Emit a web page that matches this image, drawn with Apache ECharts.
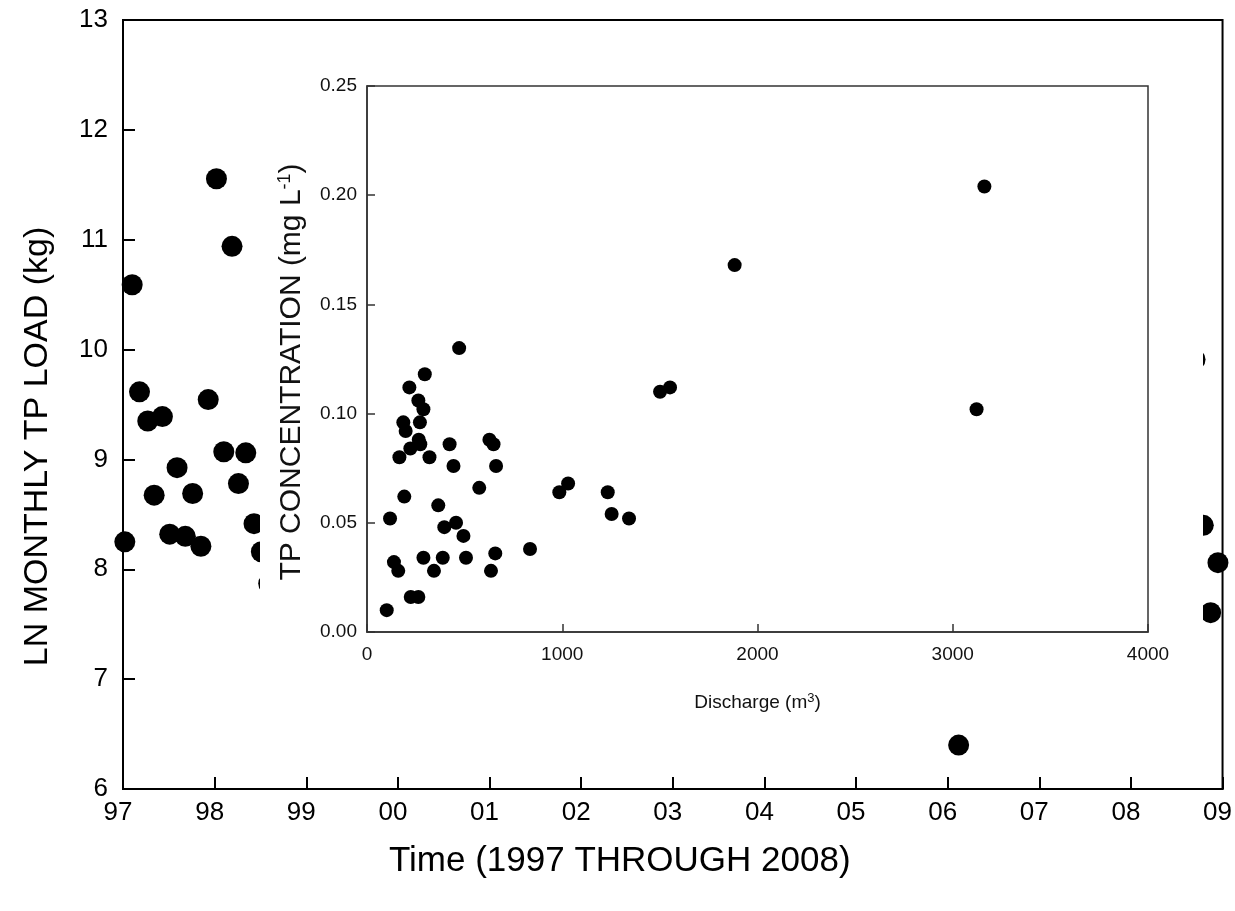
<!DOCTYPE html>
<html>
<head>
<meta charset="utf-8">
<script src="https://cdn.jsdelivr.net/npm/echarts@6/dist/echarts.min.js"></script>
<style>
html,body{margin:0;padding:0;background:#fff;}
#c{width:1235px;height:911px;}
</style>
</head>
<body>
<div id="c"></div>
<script>
// Main chart: decimal year vs LN monthly TP load (kg) (visible points only)
const mainYears = [1997.02,1997.10,1997.18,1997.27,1997.34,1997.43,1997.51,1997.59,1997.68,1997.76,1997.85,1997.93,
  1998.02,1998.10,1998.19,1998.26,1998.34,1998.43,1998.51,1998.59,2006.12,2008.70,2008.79,2008.87,2008.95];
const mainLoad = [8.25,10.59,9.615,9.35,8.675,9.39,8.32,8.925,8.30,8.69,8.21,9.545,
  11.555,9.07,10.94,8.78,9.06,8.415,8.16,7.87,6.40,9.91,8.40,7.605,8.06];

// Inset: discharge (m3) vs TP concentration (mg/L)
const discharge = [101,118,138,160,191,166,186,198,217,222,224,263,263,289,271,265,273,296,320,289,343,365,388,396,456,494,507,423,443,472,
  575,627,648,661,657,635,835,985,1030,1233,1253,1342,1501,1552,1883,3122,3162];
const tpConc = [0.010,0.052,0.032,0.028,0.062,0.080,0.096,0.092,0.112,0.084,0.016,0.016,0.106,0.102,0.096,0.088,0.086,0.118,0.080,0.034,0.028,0.058,0.034,0.048,0.050,0.044,0.034,0.086,0.076,0.130,
  0.066,0.088,0.086,0.076,0.036,0.028,0.038,0.064,0.068,0.064,0.054,0.052,0.110,0.112,0.168,0.102,0.204];

const FONT = 'Liberation Sans, Arial, sans-serif';
const mainData = mainYears.map((y,i)=>[y, mainLoad[i]]);
const insetData = discharge.map((d,i)=>[d, tpConc[i]]);

const chart = echarts.init(document.getElementById('c'), null, {renderer:'canvas'});
chart.setOption({
  animation:false,
  backgroundColor:'#fff',
  textStyle:{fontFamily:FONT, color:'#000'},
  grid:[
    {left:123, right:11, top:20, bottom:122, show:true, borderColor:'#000', borderWidth:2, zlevel:0},
    {left:367, right:87, top:86, bottom:279, show:true, borderColor:'#333', borderWidth:1.5, zlevel:2}
  ],
  xAxis:[
    {type:'value', gridIndex:0, min:1997, max:2009, interval:1, zlevel:0,
     axisLine:{show:true, onZero:false, lineStyle:{color:'#000', width:2}},
     axisTick:{show:true, inside:true, length:12, lineStyle:{color:'#000', width:2}},
     splitLine:{show:false},
     axisLabel:{fontSize:26, color:'#000', fontFamily:FONT, margin:11, padding:[0,10,0,0],
       formatter:v=>String(Math.round(v)).slice(-2)},
     name:'Time (1997 THROUGH 2008)', nameLocation:'middle', nameGap:55,
     nameTextStyle:{fontSize:35, color:'#000', fontFamily:FONT, padding:[0,106,0,0]}},
    {type:'value', gridIndex:1, min:0, max:4000, interval:1000, zlevel:2,
     axisLine:{show:true, onZero:false, lineStyle:{color:'#333', width:1.5}},
     axisTick:{show:true, inside:true, length:8, lineStyle:{color:'#333', width:1.5}},
     splitLine:{show:false},
     axisLabel:{fontSize:19, color:'#111', fontFamily:FONT, margin:13, formatter:v=>String(v)},
     name:'{a|Discharge (m}{s|3}{a|)}', nameLocation:'middle', nameGap:60,
     nameTextStyle:{rich:{a:{fontSize:19, color:'#111', fontFamily:FONT}, s:{fontSize:13, color:'#111', fontFamily:FONT, padding:[0,0,9,0]}}}}
  ],
  yAxis:[
    {type:'value', gridIndex:0, min:6, max:13, interval:1, zlevel:0,
     axisLine:{show:true, onZero:false, lineStyle:{color:'#000', width:2}},
     axisTick:{show:true, inside:true, length:12, lineStyle:{color:'#000', width:2}},
     splitLine:{show:false},
     axisLabel:{fontSize:26, color:'#000', fontFamily:FONT, margin:15},
     name:'LN MONTHLY TP LOAD (kg)', nameLocation:'middle', nameGap:68,
     nameTextStyle:{fontSize:34, color:'#000', fontFamily:FONT, padding:[0,84,0,0]}},
    {type:'value', gridIndex:1, min:0, max:0.25, interval:0.05, zlevel:2,
     axisLine:{show:true, onZero:false, lineStyle:{color:'#333', width:1.5}},
     axisTick:{show:true, inside:true, length:8, lineStyle:{color:'#333', width:1.5}},
     splitLine:{show:false},
     axisLabel:{fontSize:19, color:'#111', fontFamily:FONT, margin:10, formatter:v=>v.toFixed(2)},
     name:'{a|TP CONCENTRATION (mg L}{s|-1}{a|)}', nameLocation:'middle', nameGap:60,
     nameTextStyle:{padding:[0,26,0,0], rich:{a:{fontSize:30, color:'#111', fontFamily:FONT}, s:{fontSize:18, color:'#111', fontFamily:FONT, padding:[0,0,13,0]}}}}
  ],
  graphic:[
    {type:'rect', zlevel:1, z:10, shape:{x:260, y:60, width:943, height:668}, style:{fill:'#fff'}, silent:true}
  ],
  series:[
    {type:'scatter', xAxisIndex:0, yAxisIndex:0, zlevel:0, data:mainData, symbol:'circle', symbolSize:21,
     itemStyle:{color:'#000', opacity:1}},
    {type:'scatter', xAxisIndex:1, yAxisIndex:1, zlevel:2, data:insetData, symbol:'circle', symbolSize:14,
     itemStyle:{color:'#000', opacity:1}}
  ]
});
</script>
</body>
</html>
